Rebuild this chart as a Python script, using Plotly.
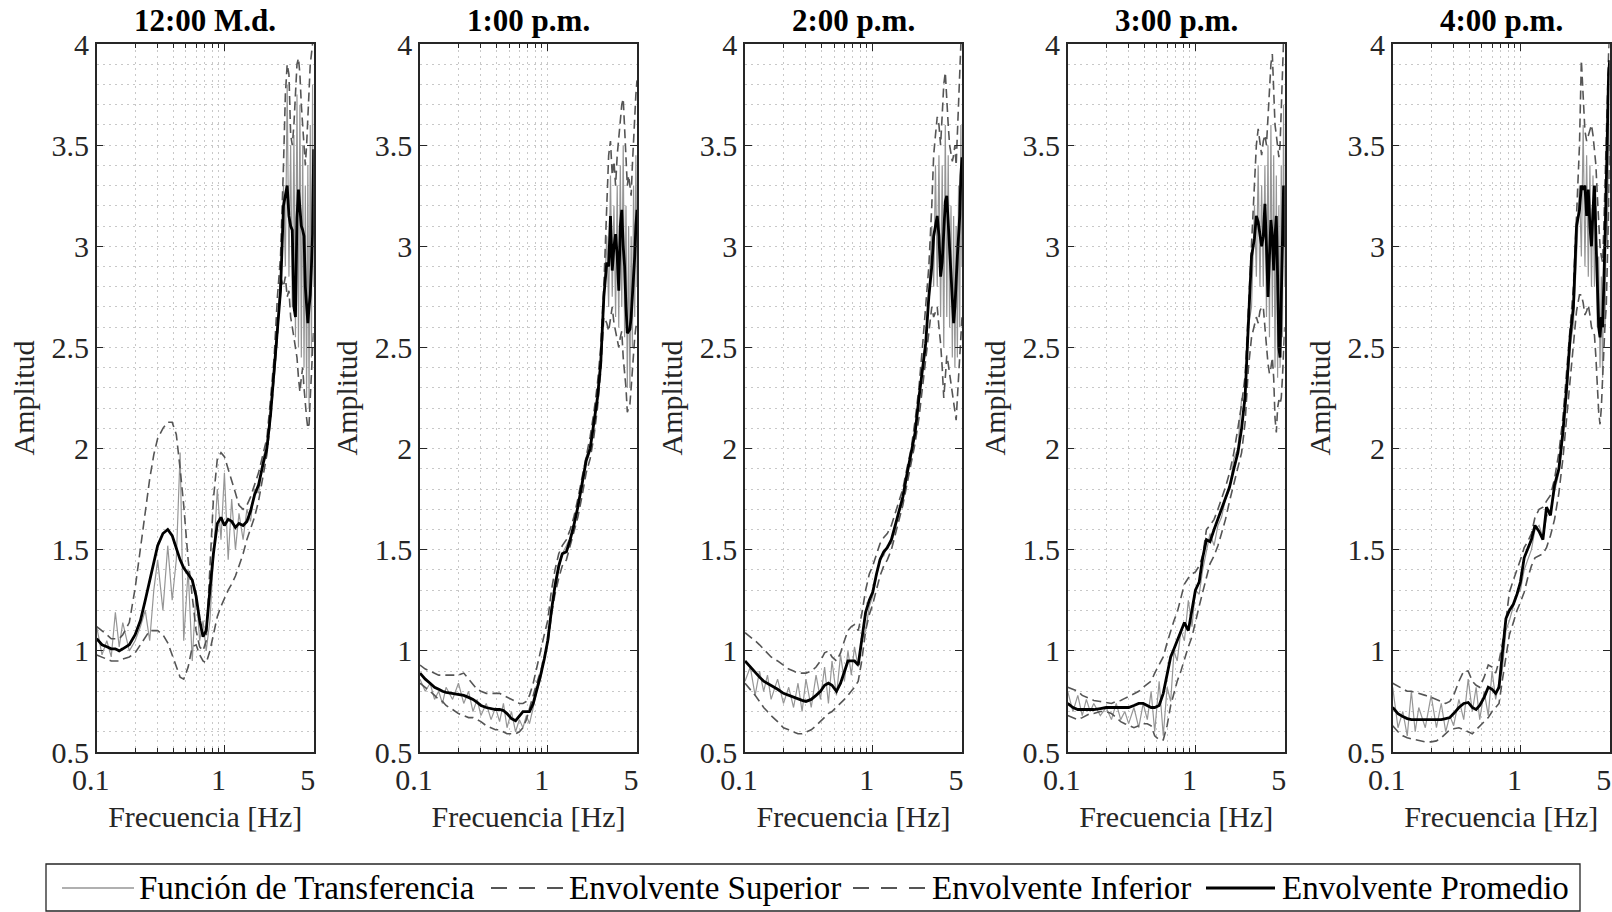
import plotly.graph_objects as go

# ---------------- data ----------------
FREQ = [0.10, 0.11, 0.12, 0.13, 0.14, 0.15, 0.16, 0.18, 0.20, 0.22, 0.24, 0.26, 0.28, 0.30,
        0.33, 0.36, 0.39, 0.42, 0.45, 0.48, 0.52, 0.56, 0.60, 0.64, 0.68, 0.72, 0.77, 0.82,
        0.88, 0.94, 1.00, 1.07, 1.14, 1.22, 1.30, 1.40, 1.50, 1.60, 1.72, 1.85, 2.00, 2.15,
        2.30, 2.45, 2.60, 2.75, 2.90, 3.0, 3.1, 3.2, 3.3, 3.4, 3.5, 3.6, 3.7, 3.8, 3.9, 4.0,
        4.1, 4.2, 4.3, 4.4, 4.5, 4.6, 4.7, 4.8, 4.9, 5.0]

TITLES = ["12:00 M.d.", "1:00 p.m.", "2:00 p.m.", "3:00 p.m.", "4:00 p.m."]

# 12:00 M.d.
TF_1200 = [1.12, 0.98, 1.05, 0.97, 1.19, 1.02, 1.14, 1.00, 1.05, 1.12, 1.20, 1.05, 1.30, 1.45,
           1.20, 1.52, 1.25, 1.45, 1.98, 1.05, 1.40, 0.95, 1.30, 1.05, 1.15, 1.00, 1.15, 1.45,
           1.80, 1.55, 1.88, 1.45, 1.75, 1.50, 1.68, 1.55, 1.70, 1.64, 1.80, 1.78, 1.95, 2.02,
           2.20, 2.38, 2.62, 2.75, 3.30, 2.90, 3.80, 2.85, 3.50, 2.70, 3.55, 2.55, 3.75, 2.50,
           3.70, 2.45, 3.50, 2.40, 3.30, 2.25, 3.40, 2.20, 3.60, 2.45, 3.80, 2.80]
SUP_1200 = [1.12, 1.10, 1.08, 1.06, 1.06, 1.06, 1.08, 1.14, 1.31, 1.50, 1.70, 1.85, 1.97, 2.05,
            2.10, 2.13, 2.13, 2.07, 1.90, 1.72, 1.45, 1.25, 1.10, 1.02, 1.00, 1.05, 1.40, 1.75,
            1.95, 1.98, 1.96, 1.90, 1.85, 1.78, 1.72, 1.70, 1.72, 1.76, 1.82, 1.88, 1.97, 2.05,
            2.25, 2.45, 2.75, 2.95, 3.40, 3.75, 3.90, 3.85, 3.55, 3.50, 3.60, 3.80, 3.90, 3.93,
            3.85, 3.70, 3.60, 3.45, 3.40, 3.50, 3.65, 3.80, 3.90, 3.95, 4.00, 4.05]
INF_1200 = [0.98, 0.97, 0.96, 0.95, 0.95, 0.95, 0.96, 0.97, 0.99, 1.03, 1.07, 1.10, 1.10, 1.10,
            1.08, 1.04, 0.98, 0.92, 0.87, 0.86, 0.92, 1.02, 1.03, 0.98, 0.95, 0.94, 1.00, 1.08,
            1.17, 1.22, 1.26, 1.30, 1.33, 1.37, 1.42, 1.48, 1.55, 1.60, 1.66, 1.74, 1.85, 1.97,
            2.15, 2.35, 2.55, 2.85, 2.80, 2.85, 2.75, 2.78, 2.65, 2.60, 2.55, 2.48, 2.45, 2.35,
            2.28, 2.35, 2.40, 2.30, 2.20, 2.15, 2.10, 2.12, 2.25, 2.35, 2.45, 2.60]
PROM_1200 = [1.06, 1.03, 1.02, 1.01, 1.01, 1.00, 1.01, 1.03, 1.08, 1.15, 1.25, 1.35, 1.44, 1.52,
             1.58, 1.60, 1.57, 1.51, 1.45, 1.41, 1.38, 1.35, 1.27, 1.15, 1.07, 1.10, 1.30, 1.48,
             1.63, 1.66, 1.62, 1.65, 1.64, 1.61, 1.63, 1.62, 1.64, 1.69, 1.77, 1.82, 1.92, 2.00,
             2.17, 2.40, 2.58, 2.78, 3.20, 3.26, 3.30, 3.15, 3.10, 3.08, 2.70, 2.65, 3.14, 3.28,
             3.20, 3.10, 3.08, 3.05, 2.80, 2.70, 2.62, 2.70, 2.76, 2.90, 3.06, 3.48]

# 1:00 p.m.
TF_1300 = [0.86, 0.80, 0.84, 0.76, 0.80, 0.74, 0.82, 0.76, 0.84, 0.74, 0.80, 0.70, 0.76, 0.68,
           0.74, 0.66, 0.72, 0.65, 0.74, 0.62, 0.70, 0.60, 0.66, 0.62, 0.68, 0.64, 0.72, 0.80,
           0.86, 0.97, 1.05, 1.22, 1.35, 1.40, 1.48, 1.52, 1.56, 1.60, 1.73, 1.80, 1.96, 2.02,
           2.14, 2.26, 2.45, 2.70, 3.05, 2.70, 3.35, 2.75, 3.20, 2.65, 3.30, 2.60, 3.40, 2.70,
           3.50, 2.55, 3.20, 2.30, 3.10, 2.30, 3.05, 2.50, 3.30, 2.65, 3.45, 2.80]
SUP_1300 = [0.93, 0.91, 0.90, 0.89, 0.88, 0.88, 0.88, 0.88, 0.88, 0.89, 0.86, 0.83, 0.81, 0.80,
            0.79, 0.79, 0.79, 0.79, 0.78, 0.77, 0.76, 0.75, 0.74, 0.74, 0.75, 0.78, 0.84, 0.92,
            1.00, 1.08, 1.15, 1.30, 1.40, 1.48, 1.52, 1.55, 1.60, 1.66, 1.75, 1.85, 1.96, 2.06,
            2.18, 2.32, 2.50, 2.80, 3.20, 3.45, 3.52, 3.35, 3.42, 3.30, 3.45, 3.55, 3.60, 3.70,
            3.73, 3.55, 3.40, 3.30, 3.35, 3.30, 3.25, 3.40, 3.55, 3.65, 3.75, 3.82]
INF_1300 = [0.84, 0.82, 0.80, 0.78, 0.76, 0.75, 0.73, 0.71, 0.69, 0.68, 0.67, 0.67, 0.66, 0.65,
            0.63, 0.62, 0.61, 0.61, 0.60, 0.59, 0.59, 0.59, 0.60, 0.62, 0.66, 0.72, 0.78, 0.84,
            0.90, 0.97, 1.03, 1.18, 1.28, 1.36, 1.42, 1.45, 1.52, 1.58, 1.66, 1.76, 1.88, 1.95,
            2.06, 2.20, 2.38, 2.65, 2.62, 2.58, 2.65, 2.70, 2.62, 2.58, 2.55, 2.50, 2.55, 2.58,
            2.45, 2.38, 2.30, 2.18, 2.20, 2.22, 2.30, 2.40, 2.45, 2.55, 2.60, 2.62]
PROM_1300 = [0.89, 0.86, 0.84, 0.82, 0.81, 0.80, 0.795, 0.79, 0.785, 0.78, 0.77, 0.76, 0.745, 0.73,
             0.72, 0.715, 0.71, 0.71, 0.705, 0.69, 0.665, 0.655, 0.68, 0.70, 0.70, 0.70, 0.74, 0.80,
             0.88, 0.96, 1.05, 1.20, 1.32, 1.42, 1.48, 1.49, 1.55, 1.62, 1.71, 1.82, 1.94, 2.00,
             2.12, 2.25, 2.42, 2.75, 2.92, 2.90, 3.15, 2.88, 3.00, 3.06, 2.95, 2.78, 3.10, 3.18,
             3.00, 2.90, 2.70, 2.57, 2.58, 2.59, 2.65, 2.75, 2.82, 2.95, 3.10, 3.18]

# 2:00 p.m.
TF_1400 = [0.85, 0.92, 0.78, 0.90, 0.80, 0.88, 0.76, 0.86, 0.74, 0.82, 0.72, 0.84, 0.70, 0.86,
           0.72, 0.88, 0.76, 0.92, 0.74, 0.95, 0.78, 0.98, 0.85, 1.00, 0.88, 1.02, 0.92, 1.05,
           1.10, 1.22, 1.27, 1.36, 1.46, 1.47, 1.52, 1.53, 1.60, 1.68, 1.74, 1.86, 1.96, 2.08,
           2.22, 2.40, 2.55, 2.75, 3.10, 2.80, 3.40, 2.80, 3.45, 2.65, 3.40, 2.50, 3.60, 2.65,
           3.45, 2.60, 3.20, 2.45, 3.15, 2.40, 3.10, 2.45, 3.30, 2.60, 3.60, 2.90]
SUP_1400 = [1.09, 1.07, 1.05, 1.03, 1.01, 0.99, 0.97, 0.95, 0.93, 0.91, 0.90, 0.89, 0.89, 0.89,
            0.90, 0.92, 0.95, 0.99, 1.00, 0.97, 0.95, 0.99, 1.05, 1.10, 1.12, 1.13, 1.10, 1.18,
            1.30, 1.38, 1.42, 1.48, 1.53, 1.56, 1.58, 1.62, 1.68, 1.74, 1.80, 1.90, 2.00, 2.14,
            2.30, 2.50, 2.70, 2.90, 3.20, 3.45, 3.55, 3.64, 3.60, 3.50, 3.65, 3.80, 3.86, 3.70,
            3.60, 3.50, 3.45, 3.42, 3.45, 3.50, 3.40, 3.55, 3.75, 3.90, 4.00, 4.05]
INF_1400 = [0.84, 0.81, 0.78, 0.75, 0.72, 0.70, 0.68, 0.65, 0.62, 0.61, 0.60, 0.59, 0.59, 0.60,
            0.61, 0.63, 0.65, 0.67, 0.69, 0.70, 0.72, 0.74, 0.76, 0.78, 0.80, 0.82, 0.85, 0.95,
            1.10, 1.18, 1.23, 1.30, 1.37, 1.42, 1.45, 1.50, 1.57, 1.64, 1.72, 1.82, 1.93, 2.03,
            2.15, 2.30, 2.45, 2.60, 2.70, 2.65, 2.68, 2.70, 2.60, 2.52, 2.40, 2.25, 2.35, 2.46,
            2.42, 2.37, 2.32, 2.28, 2.24, 2.18, 2.14, 2.25, 2.37, 2.45, 2.55, 2.65]
PROM_1400 = [0.95, 0.92, 0.89, 0.87, 0.85, 0.84, 0.83, 0.81, 0.79, 0.78, 0.77, 0.76, 0.755, 0.75,
             0.76, 0.78, 0.80, 0.83, 0.84, 0.83, 0.80, 0.84, 0.90, 0.95, 0.95, 0.95, 0.93, 1.06,
             1.19, 1.25, 1.29, 1.38, 1.45, 1.49, 1.51, 1.55, 1.62, 1.69, 1.76, 1.87, 1.97, 2.08,
             2.25, 2.40, 2.52, 2.75, 2.90, 3.05, 3.10, 3.15, 3.05, 2.85, 2.92, 3.05, 3.22, 3.25,
             3.12, 3.00, 2.85, 2.72, 2.62, 2.70, 2.87, 2.95, 3.05, 3.15, 3.35, 3.44]

# 3:00 p.m.
TF_1500 = [0.80, 0.70, 0.78, 0.68, 0.76, 0.70, 0.74, 0.68, 0.72, 0.66, 0.74, 0.66, 0.70, 0.64,
           0.72, 0.62, 0.74, 0.66, 0.80, 0.60, 0.85, 0.58, 0.82, 0.75, 1.00, 0.95, 1.10, 1.05,
           1.25, 1.12, 1.30, 1.28, 1.40, 1.50, 1.58, 1.52, 1.62, 1.66, 1.75, 1.80, 1.95, 2.00,
           2.25, 2.22, 2.60, 2.70, 3.20, 2.85, 3.40, 2.80, 3.30, 2.80, 3.40, 2.65, 3.50, 2.55,
           3.60, 2.65, 3.45, 2.40, 3.35, 2.35, 3.20, 2.40, 3.40, 2.55, 3.70, 2.80]
SUP_1500 = [0.82, 0.81, 0.80, 0.78, 0.77, 0.76, 0.755, 0.75, 0.745, 0.74, 0.75, 0.755, 0.765, 0.775,
            0.79, 0.80, 0.82, 0.835, 0.85, 0.89, 0.93, 0.97, 1.04, 1.10, 1.15, 1.19, 1.27, 1.33,
            1.36, 1.38, 1.39, 1.42, 1.47, 1.60, 1.62, 1.65, 1.70, 1.75, 1.81, 1.88, 1.98, 2.10,
            2.22, 2.36, 2.70, 2.95, 3.30, 3.50, 3.58, 3.50, 3.45, 3.52, 3.55, 3.50, 3.62, 3.75,
            3.90, 3.95, 3.75, 3.60, 3.55, 3.48, 3.44, 3.50, 3.65, 3.85, 4.02, 4.05]
INF_1500 = [0.68, 0.67, 0.66, 0.67, 0.68, 0.69, 0.69, 0.70, 0.70, 0.69, 0.67, 0.65, 0.64, 0.63,
            0.62, 0.63, 0.64, 0.64, 0.63, 0.58, 0.56, 0.56, 0.63, 0.73, 0.79, 0.85, 0.90, 0.96,
            1.02, 1.07, 1.15, 1.22, 1.29, 1.36, 1.43, 1.47, 1.52, 1.58, 1.65, 1.74, 1.83, 1.91,
            1.98, 2.13, 2.40, 2.55, 2.62, 2.65, 2.62, 2.68, 2.70, 2.70, 2.60, 2.50, 2.42, 2.37,
            2.40, 2.45, 2.35, 2.15, 2.08, 2.20, 2.24, 2.22, 2.25, 2.35, 2.50, 2.60]
PROM_1500 = [0.74, 0.72, 0.71, 0.71, 0.71, 0.71, 0.71, 0.715, 0.72, 0.72, 0.72, 0.72, 0.72, 0.72,
             0.73, 0.74, 0.74, 0.73, 0.72, 0.72, 0.73, 0.79, 0.89, 0.97, 1.01, 1.05, 1.10, 1.14,
             1.10, 1.20, 1.30, 1.34, 1.46, 1.55, 1.54, 1.60, 1.65, 1.70, 1.75, 1.81, 1.90, 1.98,
             2.10, 2.26, 2.62, 2.95, 3.04, 3.15, 3.12, 3.05, 3.00, 3.05, 3.21, 3.00, 2.75, 2.95,
             3.13, 3.05, 2.88, 3.05, 3.15, 2.85, 2.50, 2.45, 2.70, 2.95, 3.30, 3.00]

# 4:00 p.m.
TF_1600 = [0.82, 0.62, 0.70, 0.58, 0.80, 0.60, 0.72, 0.62, 0.78, 0.62, 0.74, 0.60, 0.68, 0.63,
           0.76, 0.66, 0.86, 0.70, 0.82, 0.66, 0.80, 0.68, 0.90, 0.76, 0.85, 0.90, 1.10, 1.15,
           1.22, 1.28, 1.30, 1.40, 1.45, 1.50, 1.60, 1.62, 1.56, 1.66, 1.70, 1.78, 1.88, 2.05,
           2.25, 2.50, 2.62, 2.95, 3.30, 2.95, 3.60, 2.90, 3.45, 2.85, 3.40, 2.80, 3.35, 2.80,
           3.20, 2.60, 2.95, 2.40, 2.85, 2.35, 3.00, 2.60, 3.30, 3.00, 3.70, 3.40]
SUP_1600 = [0.84, 0.825, 0.81, 0.80, 0.80, 0.795, 0.79, 0.78, 0.77, 0.76, 0.75, 0.74, 0.75, 0.78,
            0.85, 0.90, 0.90, 0.85, 0.83, 0.82, 0.87, 0.93, 0.92, 0.89, 0.95, 1.03, 1.15, 1.29,
            1.35, 1.40, 1.45, 1.51, 1.54, 1.58, 1.66, 1.70, 1.71, 1.74, 1.77, 1.85, 1.98, 2.15,
            2.38, 2.60, 2.80, 3.15, 3.50, 3.92, 3.70, 3.57, 3.52, 3.55, 3.58, 3.60, 3.55, 3.48,
            3.40, 3.25, 3.08, 3.00, 2.95, 2.92, 3.10, 3.35, 3.50, 3.85, 3.95, 4.05]
INF_1600 = [0.63, 0.60, 0.58, 0.57, 0.565, 0.56, 0.555, 0.55, 0.55, 0.555, 0.57, 0.59, 0.61, 0.615,
            0.62, 0.61, 0.60, 0.59, 0.61, 0.63, 0.65, 0.67, 0.70, 0.72, 0.74, 0.85, 0.98, 1.08,
            1.14, 1.20, 1.24, 1.29, 1.36, 1.42, 1.46, 1.47, 1.48, 1.51, 1.57, 1.65, 1.78, 1.95,
            2.15, 2.32, 2.48, 2.68, 2.76, 2.76, 2.72, 2.66, 2.68, 2.71, 2.66, 2.60, 2.58, 2.56,
            2.45, 2.30, 2.18, 2.12, 2.20, 2.35, 2.50, 2.62, 2.70, 2.90, 3.18, 3.50]
PROM_1600 = [0.72, 0.69, 0.675, 0.665, 0.66, 0.66, 0.66, 0.66, 0.66, 0.66, 0.66, 0.665, 0.67, 0.69,
             0.72, 0.74, 0.745, 0.72, 0.71, 0.73, 0.77, 0.82, 0.81, 0.79, 0.82, 0.98, 1.16, 1.20,
             1.23, 1.28, 1.34, 1.46, 1.50, 1.55, 1.62, 1.59, 1.55, 1.71, 1.67, 1.82, 1.90, 2.08,
             2.30, 2.55, 2.70, 3.10, 3.18, 3.30, 3.28, 3.30, 3.15, 3.28, 3.10, 3.00, 3.18, 3.30,
             3.05, 2.75, 2.60, 2.55, 2.65, 2.60, 2.90, 3.05, 3.30, 3.70, 3.85, 3.92]

TF = [TF_1200, TF_1300, TF_1400, TF_1500, TF_1600]
SUP = [SUP_1200, SUP_1300, SUP_1400, SUP_1500, SUP_1600]
INF = [INF_1200, INF_1300, INF_1400, INF_1500, INF_1600]
PROM = [PROM_1200, PROM_1300, PROM_1400, PROM_1500, PROM_1600]

X_TICKS = [0.1, 1, 5]
X_TICK_TEXT = ["0.1", "1", "5"]
X_MINOR = [0.2, 0.3, 0.4, 0.5, 0.6, 0.7, 0.8, 0.9]
Y_TICKS = [0.5, 1, 1.5, 2, 2.5, 3, 3.5, 4]
Y_TICK_TEXT = ["0.5", "1", "1.5", "2", "2.5", "3", "3.5", "4"]
X_LABEL = "Frecuencia [Hz]"
Y_LABEL = "Amplitud"
LEGEND_LABELS = ["Función de Transferencia", "Envolvente Superior",
                 "Envolvente Inferior", "Envolvente Promedio"]

# ---------------- style / layout ----------------
W, H = 1612, 912
FONT = "Liberation Serif, Times New Roman, serif"
AX = "#262626"
GRAY = "rgb(150,150,150)"
DARK = "rgb(85,85,85)"
GRID = "rgb(200,200,200)"
PANEL_LEFT = [96.7, 420, 745, 1067.7, 1392.7]
PANEL_W = 217
TOP, BOTTOM = 44, 752

def px_x(p):
    return p / W

def px_y(p):
    return 1 - p / H

fig = go.Figure()
layout = dict(
    width=W, height=H,
    margin=dict(l=0, r=0, t=0, b=0),
    paper_bgcolor="white", plot_bgcolor="white",
    showlegend=False,
    font=dict(family=FONT, size=30, color=AX),
)

annotations = []
shapes = []
for i in range(5):
    n = "" if i == 0 else str(i + 1)
    xa, ya = "x" + n, "y" + n
    styles = [
        (TF[i], dict(color=GRAY, width=1.2)),
        (SUP[i], dict(color=DARK, width=1.6, dash="9px,5px")),
        (INF[i], dict(color=DARK, width=1.6, dash="9px,5px")),
        (PROM[i], dict(color="black", width=2.8)),
    ]
    for k, (vals, ln) in enumerate(styles):
        fig.add_trace(go.Scatter(x=FREQ, y=vals, mode="lines", line=ln,
                                 name=LEGEND_LABELS[k], xaxis=xa, yaxis=ya,
                                 showlegend=False, hoverinfo="skip"))
    x0 = PANEL_LEFT[i]
    layout["xaxis" + n] = dict(
        type="log", domain=[px_x(x0), px_x(x0 + PANEL_W)], anchor=ya,
        range=[-1, 0.6990], tickmode="array", tickvals=X_TICKS, ticktext=X_TICK_TEXT,
        ticks="inside", ticklen=7, tickwidth=1.2, tickcolor=AX,
        ticklabelshift=-6, ticklabeloverflow="allow",
        showline=True, linecolor=AX, linewidth=1.5, mirror="allticks",
        showgrid=True, gridcolor=GRID, griddash="2px,4px", gridwidth=1,
        zeroline=False, automargin=False,
        tickfont=dict(family=FONT, size=30, color=AX),
        title=dict(text=X_LABEL, font=dict(family=FONT, size=30, color=AX), standoff=11),
        minor=dict(tickmode="array", tickvals=X_MINOR, ticks="inside", ticklen=4,
                   tickcolor=AX, tickwidth=1.0, showgrid=True,
                   gridcolor=GRID, griddash="2px,4px", gridwidth=1),
    )
    layout["yaxis" + n] = dict(
        domain=[px_y(BOTTOM), px_y(TOP)], anchor=xa, range=[0.5, 4],
        tickmode="array", tickvals=Y_TICKS, ticktext=Y_TICK_TEXT,
        ticks="inside", ticklen=7, tickwidth=1.2, tickcolor=AX,
        showline=True, linecolor=AX, linewidth=1.5, mirror="ticks",
        showgrid=True, gridcolor=GRID, griddash="2px,4px", gridwidth=1,
        zeroline=False, automargin=False,
        tickfont=dict(family=FONT, size=30, color=AX),
        title=dict(text=Y_LABEL, font=dict(family=FONT, size=30, color=AX), standoff=8),
        minor=dict(dtick=0.1, ticks="", showgrid=True,
                   gridcolor=GRID, griddash="2px,4px", gridwidth=1),
    )
    annotations.append(dict(
        text="<b>" + TITLES[i] + "</b>", xref="paper", yref="paper",
        x=px_x(x0 + PANEL_W / 2), y=px_y(21), xanchor="center", yanchor="middle",
        showarrow=False, font=dict(family=FONT, size=31, color="black")))

# ---------------- manual legend ----------------
LEG_Y = 888
shapes.append(dict(type="rect", xref="paper", yref="paper",
                   x0=px_x(46), x1=px_x(1580), y0=px_y(911), y1=px_y(864),
                   line=dict(color=AX, width=1.3), fillcolor="white", layer="above"))
leg_styles = [
    (dict(color=GRAY, width=1.5), 62, 134, 137),
    (dict(color=DARK, width=1.8, dash="16px,12px"), 491, 563, 567),
    (dict(color=DARK, width=1.8, dash="16px,12px"), 853, 925, 930),
    (dict(color="black", width=3), 1206, 1275, 1280),
]
for k, (ln, a, b, tx) in enumerate(leg_styles):
    shapes.append(dict(type="line", xref="paper", yref="paper",
                       x0=px_x(a), x1=px_x(b), y0=px_y(LEG_Y), y1=px_y(LEG_Y),
                       line=ln, layer="above"))
    annotations.append(dict(text=LEGEND_LABELS[k], xref="paper", yref="paper",
                            x=px_x(tx), y=px_y(LEG_Y), xanchor="left", yanchor="middle",
                            showarrow=False, font=dict(family=FONT, size=33, color="black")))

layout["annotations"] = annotations
layout["shapes"] = shapes
fig.update_layout(**layout)
fig.write_html("out.html")
